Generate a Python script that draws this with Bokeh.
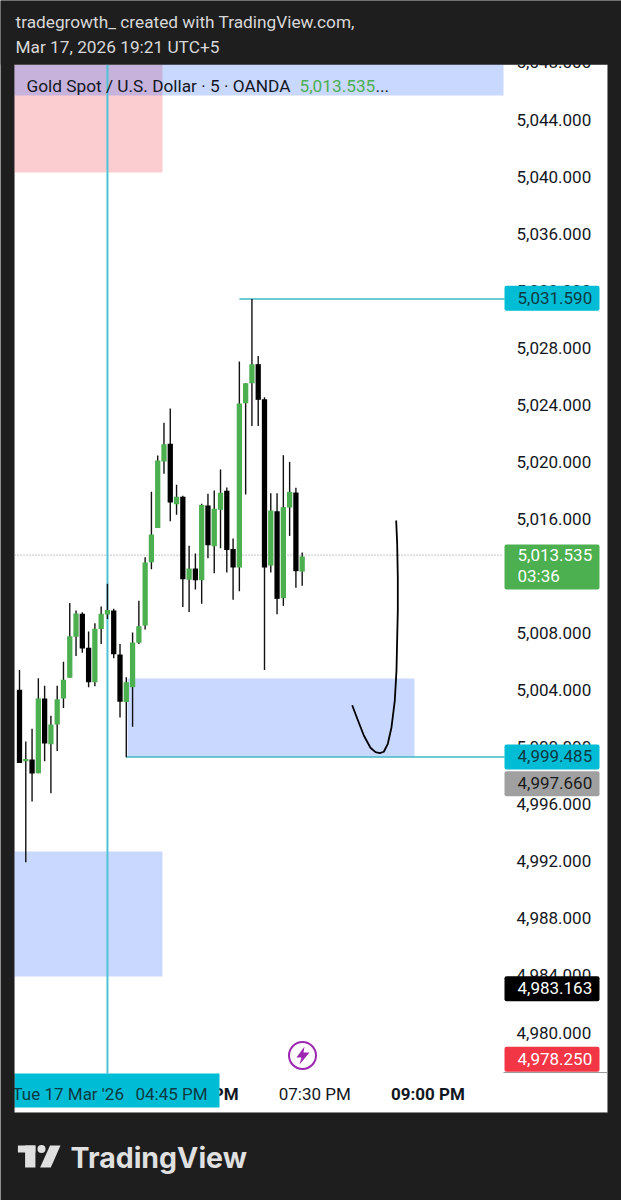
from bokeh.embed import file_html
from bokeh.models import (BoxAnnotation, FixedTicker, Label, LinearAxis, NumeralTickFormatter,
                          PolyAnnotation, Range1d)
from bokeh.plotting import figure
from bokeh.resources import INLINE

# ---- data ----
highs = [5005.49, 5000.47, 5001.36, 5004.91, 5004.37, 5002.27, 5004.37, 5006.06, 5010.17, 5009.65,
         5009.53, 5008.18, 5008.76, 5009.93, 5011.52, 5009.77, 5007.30, 5004.98, 5008.11, 5010.33,
         5013.39, 5017.97, 5020.52, 5022.81, 5023.81, 5018.46, 5017.69, 5014.19, 5013.65, 5017.13,
         5017.83, 5018.06, 5019.53, 5018.27, 5014.70, 5027.10, 5025.58, 5031.49, 5027.50, 5024.60,
         5017.87, 5017.87, 5020.54, 5020.07, 5018.25, 5013.72]
lows = [4998.97, 4992.01, 4996.26, 4998.25, 4999.09, 4996.85, 4999.81, 5002.81, 5004.93, 5006.47,
        5006.69, 5004.28, 5004.35, 5007.30, 5009.05, 5006.31, 5002.15, 4999.37, 5001.50, 5007.30,
        5008.32, 5012.55, 5015.44, 5019.23, 5015.91, 5016.36, 5009.89, 5009.54, 5011.12, 5010.12,
        5013.32, 5012.27, 5014.02, 5012.31, 5010.40, 5011.01, 5017.78, 5022.59, 5022.59, 5005.49,
        5012.31, 5009.39, 5009.98, 5014.88, 5011.24, 5011.38]
opens = [5004.09, 4999.09, 4999.21, 4998.25, 5003.48, 5000.28, 5001.66, 5003.48, 5004.93, 5007.81,
         5009.42, 5007.04, 5004.63, 5008.35, 5009.37, 5009.65, 5006.57, 5003.23, 5004.28, 5007.39,
         5008.60, 5013.04, 5015.44, 5020.10, 5021.34, 5017.10, 5017.62, 5011.80, 5012.60, 5011.78,
         5017.01, 5014.16, 5016.71, 5018.04, 5013.97, 5012.66, 5024.18, 5025.58, 5026.92, 5024.46,
         5012.80, 5016.61, 5010.52, 5016.87, 5017.92, 5012.38]
closes = [4998.97, 4999.25, 4998.23, 5003.48, 5000.33, 5001.66, 5003.44, 5004.79, 5007.85, 5009.44,
          5006.99, 5004.63, 5008.37, 5009.42, 5009.68, 5006.59, 5003.25, 5004.63, 5007.41, 5008.55,
          5013.02, 5014.98, 5020.17, 5021.31, 5017.22, 5017.62, 5011.85, 5012.60, 5011.78, 5017.04,
          5014.23, 5016.78, 5017.90, 5013.90, 5012.66, 5024.16, 5025.58, 5026.92, 5024.42, 5012.66,
          5016.66, 5010.47, 5016.90, 5017.97, 5012.41, 5013.44]

price_ticks = [4980, 4984, 4988, 4992, 4996, 5000, 5004, 5008, 5012, 5016, 5020, 5024, 5028, 5032,
               5036, 5040, 5044, 5048]
last_price = 5013.535
cursor_bar = 14
time_bar_regular = [47]
time_labels_regular = ["07:30 PM"]
time_bar_bold = [29, 65]
time_labels_bold = ["06:00 PM", "09:00 PM"]

# zones: left bar, right bar, top price, bottom price, colour
zone_left = [-0.796, -0.796, 17.2, -0.796]
zone_right = [77.05, 22.76, 62.88, 22.76]
zone_top = [5047.925, 5047.925, 5004.89, 4992.76]
zone_bottom = [5045.75, 5040.355, 4999.385, 4984.0]
zone_color = ["#2962ff", "#f23645", "#2962ff", "#2962ff"]
# order so blue falls over pink, as in the reference
zone_order = [1, 0, 2, 3]

level_start = [35, 17]
level_price = [5031.49, 4999.38]

tag_values = ["5,031.590", "4,999.485", "4,997.660", "4,983.163", "4,978.250"]
tag_prices = [5031.59, 4999.485, 4997.66, 4983.163, 4978.25]
tag_nudge = [-0.05, -0.1, -0.15, -0.03, -0.06]
tag_fill = ["#00bcd4", "#00bcd4", "#a0a0a0", "#000000", "#f23645"]
tag_text = ["#0c3a44", "#0c3a44", "#1a1a1a", "#ffffff", "#ffffff"]

curve_bar = [52.96, 53.76, 54.81, 55.87, 56.67, 57.36, 57.99, 58.63, 59.22, 59.74, 60.01, 60.22, 60.22,
             60.12, 59.96]
curve_price = [5003.01, 5002.08, 5000.89, 5000.03, 4999.72, 4999.65, 4999.75, 5000.31, 5001.47, 5003.34,
               5005.45, 5009.65, 5011.99, 5014.35, 5015.96]

# ---- page geometry ----
W, H = 621, 1200
DARK = "#1e1e1e"
FONT = "Roboto"
PXU = 14.266     # pixels per price unit
BAR = 6.282      # pixels per bar


def X(px):       # page pixel -> bar coordinate
    return (px - 19) / BAR


def Y(py):       # page pixel -> price coordinate
    return 5044 - (py - 120) / PXU


def PY(price):   # price -> page pixel
    return 120 + (5044 - price) * PXU


p = figure(width=W, height=H, output_backend="svg", toolbar_location=None,
           x_range=Range1d(X(0), X(W)), y_range=Range1d(Y(H), Y(0)), min_border=0,
           background_fill_color=DARK, border_fill_color=DARK, outline_line_color=None,
           x_axis_location=None, y_axis_location=None)
p.grid.visible = False
# the scale's labels sit a pixel above the plain mapping, as they do in the reference
p.extra_y_ranges = {"scale": Range1d(Y(H + 1), Y(1))}


def box(l, r, t, b, color, radius=0, **kw):
    p.add_layout(BoxAnnotation(left=l, right=r, top=t, bottom=b, left_units="canvas", right_units="canvas",
                               top_units="canvas", bottom_units="canvas", fill_color=color, fill_alpha=1,
                               border_radius=radius, **{"line_color": None, **kw}))


def poly(xs, ys, color):
    p.add_layout(PolyAnnotation(xs=list(xs), ys=list(ys), xs_units="canvas", ys_units="canvas",
                                fill_color=color, fill_alpha=1, line_color=None))


def text(s, px, py, color, size=17, style="normal", align="left", font=FONT):
    p.add_layout(Label(x=px, y=py, x_units="canvas", y_units="canvas", text=s, text_color=color,
                       text_font=font, text_font_size=f"{size}px", text_font_style=style, text_align=align,
                       text_baseline="middle"))


# white chart panel behind everything
box(14, 607, 64, 1112, "#ffffff", line_color="#7a7a7a", line_width=1, level="underlay")

# axes, placed inside the full-page frame
yaxis = LinearAxis(ticker=FixedTicker(ticks=price_ticks), formatter=NumeralTickFormatter(format="0,0.000"),
                   fixed_location=X(503), y_range_name="scale",
                   axis_line_color=None, major_tick_line_color=None, minor_tick_line_color=None,
                   major_label_text_font=FONT, major_label_text_font_size="17px",
                   major_label_text_color="#131722", major_label_standoff=7)
p.add_layout(yaxis, "right")
xaxis = LinearAxis(ticker=FixedTicker(ticks=time_bar_regular),
                   major_label_overrides=dict(zip(time_bar_regular, time_labels_regular)),
                   fixed_location=Y(1072),
                   axis_line_color=None, major_tick_line_color=None, minor_tick_line_color=None,
                   major_label_text_font=FONT, major_label_text_font_size="17px",
                   major_label_text_color="#131722", major_label_standoff=5)
p.add_layout(xaxis, "below")

# zones
for k in zone_order:
    p.quad(left=[zone_left[k]], right=[zone_right[k]], top=[zone_top[k]], bottom=[zone_bottom[k]],
           fill_color=zone_color[k], fill_alpha=0.25, line_color=None)

# last price dotted line, cursor, levels
p.segment(x0=[X(14)], x1=[X(503)], y0=[last_price], y1=[last_price], line_color="#8a8a8a", line_width=1,
          line_dash="1 2")
p.segment(x0=[cursor_bar], x1=[cursor_bar], y0=[Y(1073)], y1=[Y(64)], line_color="#4fc3d6", line_width=2)
p.segment(x0=level_start, x1=[X(504)] * 2, y0=level_price, y1=level_price, line_color="#3fb9c4", line_width=1.6)

# candles
bars = list(range(len(opens)))
body_color = ["#4caf50" if c >= o else "#000000" for o, c in zip(opens, closes)]
p.segment(x0=bars, x1=bars, y0=lows, y1=highs, line_color="#111111", line_width=1.4)
p.vbar(x=bars, width=0.84, top=[max(o, c) for o, c in zip(opens, closes)],
       bottom=[min(o, c) for o, c in zip(opens, closes)], fill_color=body_color, line_color=None)

# hand drawn curve
p.line(curve_bar, curve_price, line_color="#000000", line_width=1.8, line_join="round")

# lightning icon
p.scatter([X(302)], [Y(1055)], marker="circle", size=27, fill_color="#ffffff", line_color="#9c27b0", line_width=2)
poly((304, 296, 301, 299, 309, 303), (1046, 1057, 1057, 1064, 1052, 1052), "#9c27b0")

# bold time labels (under the cursor tag)
for b, s in zip(time_bar_bold, time_labels_bold):
    text(s, 19 + BAR * b, 1093.5, "#131722", style="bold", align="center")

# separator between the pane and the time scale on the price side
box(503, 607, 1071.5, 1072.5, "#9a9a9a")

# right scale tags
for v, pr, n, f, c in zip(tag_values, tag_prices, tag_nudge, tag_fill, tag_text):
    cy = PY(pr + n)
    box(504, 599, cy - 12.5, cy + 12.5, f, 2)
    text(v, 517, cy - 0.5, c)
box(504, 599, 544, 589, "#4caf50", 2)
text("5,013.535", 517, 554, "#ffffff")
text("03:36", 517, 575, "#ffffff")

# cursor time tag
box(14, 219, 1073, 1107, "#00bcd4")
text("Tue 17 Mar '26", 12, 1093, "#0c3a44")
text("04:45 PM", 135, 1093, "#0c3a44")
box(8, 14, 1073, 1107, DARK)

# dark mask over the clipped top of the scale, then header texts
box(0, 621, 0, 64, DARK)
text("tradegrowth_ created with TradingView.com,", 15, 21.5, "#d8d8d8", size=17.25)
text("Mar 17, 2026 19:21 UTC+5", 15, 46.5, "#d8d8d8", size=17.25)

# pane legend
text("Gold Spot / U.S. Dollar · 5 · OANDA", 26, 85, "#131722", size=17.25)
text("5,013.535", 299, 85, "#4caf50", size=17.25)
text("...", 375, 85, "#131722", size=17.25)

# TradingView footer
LOGO = "#e0e0e0"
box(17.4, 34.9, 1145, 1152, LOGO)
box(24.6, 34.9, 1145, 1167, LOGO)
box(37, 45, 1144.5, 1152.5, LOGO, 4)
poly((49.5, 60, 50.3, 39.6), (1145, 1145, 1167, 1167), LOGO)
text("TradingView", 70, 1157, LOGO, size=28.5, style="bold", font="Inter")

open("out.html", "w").write(file_html(p, INLINE))
